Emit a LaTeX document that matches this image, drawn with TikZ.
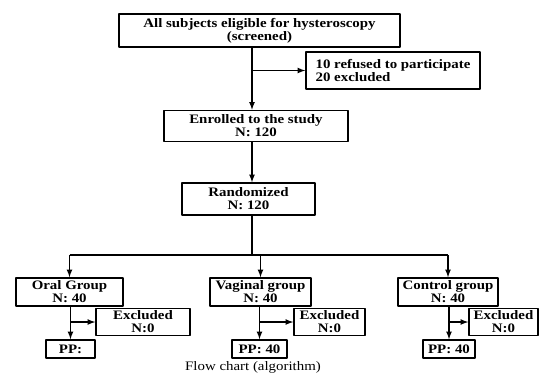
\documentclass[tikz,border=0pt]{standalone}
\usepackage{fontspec}
\setmainfont{Liberation Serif}[FakeStretch=1.15]

\begin{document}
\begin{tikzpicture}[>=latex,line join=bevel,x=1bp,y=-1bp,
  box/.style={draw,line width=1.6bp,inner sep=0pt,align=center,
    font=\fontsize{13}{13}\selectfont\bfseries},
  link/.style={line width=1.6bp}]
\useasboundingbox (0,0) rectangle (540,376);
  % Node: screened
  \node[box,minimum width=281bp,minimum height=33bp] (screened) at (259.5,30.5) {All subjects eligible for hysteroscopy\\(screened)};
  % Node: refused
  \node[box,align=left,minimum width=174bp,minimum height=37bp] (refused) at (393,70.5) {10 refused to participate\\20 excluded};
  % Node: enrolled
  \node[box,minimum width=184bp,minimum height=31bp] (enrolled) at (256,126) {Enrolled to the study\\N: 120};
  % Node: randomized
  \node[box,minimum width=133bp,minimum height=32bp] (randomized) at (248.5,199) {Randomized\\N: 120};
  % Node: oral, vaginal, control
  \node[box,minimum width=107bp,minimum height=28bp] (oral) at (69.5,292) {Oral Group\\N: 40};
  \node[box,minimum width=101bp,minimum height=28bp] (vaginal) at (260.5,292) {Vaginal group\\N: 40};
  \node[box,minimum width=100bp,minimum height=28bp] (control) at (448,292) {Control group\\N: 40};
  % Node: excluded
  \node[box,minimum width=94bp,minimum height=27bp] (exoral) at (143,322) {Excluded\\N:0};
  \node[box,minimum width=71bp,minimum height=27bp] (exvaginal) at (329.5,322) {Excluded\\N:0};
  \node[box,minimum width=69bp,minimum height=27bp] (excontrol) at (503.5,322) {Excluded\\N:0};
  % Node: per protocol
  \node[box,minimum width=49bp,minimum height=18bp] (pporal) at (70.5,349) {PP:};
  \node[box,minimum width=55bp,minimum height=18bp] (ppvaginal) at (259.5,349) {PP: 40};
  \node[box,minimum width=52bp,minimum height=18bp] (ppcontrol) at (449,349) {PP: 40};
  % Node: caption
  \node[font=\fontsize{13}{13}\selectfont] (caption) at (253,367) {Flow chart (algorithm)};
  \coordinate (spine) at (252,0);
  \coordinate (split) at (252,255);
  % Edge: screened -> enrolled, refused
  \draw [link,->] (screened.south -| spine) -- (enrolled.north -| spine);
  \draw [link,->] (spine |- refused.west) -- (refused.west);
  % Edge: enrolled -> randomized
  \draw [link,->] (enrolled.south -| spine) -- (randomized.north -| spine);
  % Edge: randomized -> groups
  \draw [link] (randomized.south -| spine) -- (split);
  \draw [link] (oral.north |- split) -- (control.north |- split);
  \draw [link,->] (oral.north |- split) -- (oral.north);
  \draw [link,->] (vaginal.north |- split) -- (vaginal.north);
  \draw [link,->] (control.north |- split) -- (control.north);
  % Edge: groups -> excluded, PP
  \draw [link,->] (oral.south -| pporal.north) -- (pporal.north);
  \draw [link,->] (pporal.north |- exoral.west) -- (exoral.west);
  \draw [link,->] (vaginal.south -| ppvaginal.north) -- (ppvaginal.north);
  \draw [link,->] (ppvaginal.north |- exvaginal.west) -- (exvaginal.west);
  \draw [link,->] (control.south -| ppcontrol.north) -- (ppcontrol.north);
  \draw [link,->] (ppcontrol.north |- excontrol.west) -- (excontrol.west);
%
\end{tikzpicture}
\end{document}
